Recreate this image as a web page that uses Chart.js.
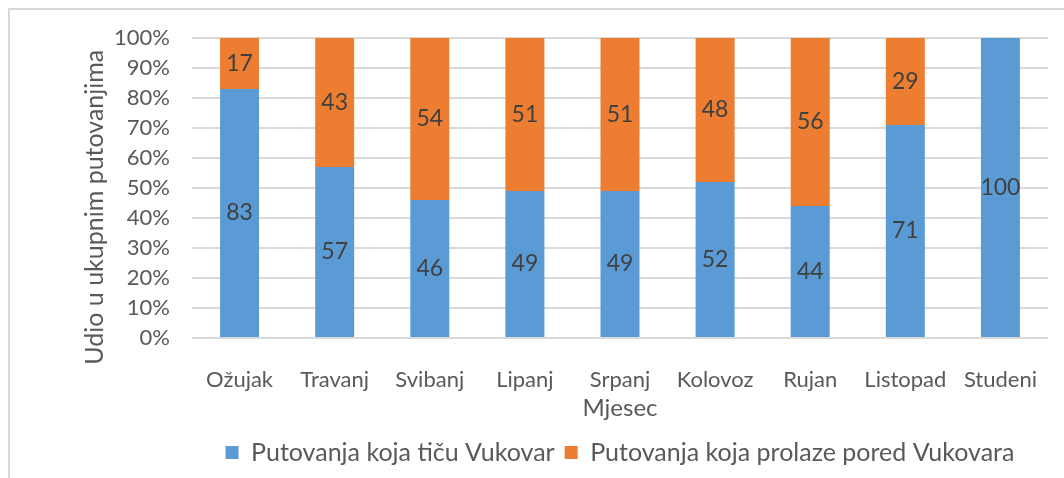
<!DOCTYPE html>
<html>
<head>
<meta charset="utf-8">
<script src="https://cdn.jsdelivr.net/npm/chart.js@4"></script>
<style>
    body { margin: 0; background: #fff; }
    #wrap { position: relative; width: 1064px; height: 478px; }
    #frame {
        position: absolute; left: 8px; top: 8px; right: -4px; bottom: -4px;
        border: 2px solid #d9d9d9; pointer-events: none;
    }
    canvas { position: absolute; left: 0; top: 0; }
</style>
</head>
<body>
<div id="wrap">
    <canvas id="udioChart" width="1064" height="478"></canvas>
    <div id="frame"></div>
</div>
<script>
// Podaci sa grafikona
const mjeseci = ['Ožujak', 'Travanj', 'Svibanj', 'Lipanj', 'Srpanj', 'Kolovoz', 'Rujan', 'Listopad', 'Studeni'];
const ticuVukovar = [83, 57, 46, 49, 49, 52, 44, 71, 100];
const prolazePored = [17, 43, 54, 51, 51, 48, 56, 29, 0];
const yTicks = [0, 10, 20, 30, 40, 50, 60, 70, 80, 90, 100];

const FONT = 'Lato, "Open Sans", sans-serif';
const textColor = '#595959';

// Oznake vrijednosti u sredini svakog segmenta
const labelsPlugin = {
    id: 'segmentLabels',
    afterDatasetsDraw(chart) {
        const ctx = chart.ctx;
        ctx.save();
        ctx.font = '23px ' + FONT;
        ctx.fillStyle = '#404040';
        ctx.textAlign = 'center';
        ctx.textBaseline = 'middle';
        chart.data.datasets.forEach((ds, i) => {
            const meta = chart.getDatasetMeta(i);
            meta.data.forEach((bar, j) => {
                const v = ds.data[j];
                if (!v) return;
                ctx.fillText(String(v), bar.x, (bar.y + bar.base) / 2);
            });
        });
        ctx.restore();
    }
};

// Legenda centrirana na podrucje grafa
const legendShift = {
    id: 'legendShift',
    afterLayout(chart) {
        if (chart.legend) {
            chart.legend.left = chart.chartArea.left;
            chart.legend.right = chart.chartArea.right;
        }
    }
};

new Chart(document.getElementById('udioChart'), {
    type: 'bar',
    data: {
        labels: mjeseci,
        datasets: [
            {
                label: 'Putovanja koja tiču Vukovar',
                data: ticuVukovar,
                backgroundColor: '#5B9BD5',
                categoryPercentage: 1,
                barPercentage: 0.41
            },
            {
                label: 'Putovanja koja prolaze pored Vukovara',
                data: prolazePored,
                backgroundColor: '#ED7D31',
                categoryPercentage: 1,
                barPercentage: 0.41
            }
        ]
    },
    options: {
        responsive: false,
        animation: false,
        layout: { padding: { left: 10, right: 16, top: 38, bottom: 3 } },
        scales: {
            x: {
                stacked: true,
                grid: { display: false },
                border: { display: false },
                ticks: { color: textColor, font: { family: FONT, size: 22 }, padding: 21 },
                title: {
                    display: true, text: 'Mjesec', color: textColor,
                    font: { family: FONT, size: 24 }, padding: { top: 0, bottom: 7 }
                },
                afterFit(scale) { scale.height = 92; }
            },
            y: {
                stacked: true,
                min: 0,
                max: 100,
                afterBuildTicks(scale) { scale.ticks = yTicks.map(v => ({ value: v })); },
                grid: { color: '#d9d9d9', lineWidth: 2, drawTicks: false },
                border: { display: false },
                ticks: {
                    color: textColor, font: { family: FONT, size: 22 }, padding: 22,
                    callback: v => v + '%'
                },
                title: {
                    display: true, text: 'Udio u ukupnim putovanjima      ', color: textColor,
                    font: { family: FONT, size: 25 }, padding: { top: 70, bottom: 0 }
                },
                afterFit(scale) { scale.width = 182; }
            }
        },
        plugins: {
            legend: {
                position: 'bottom',
                labels: {
                    color: textColor,
                    font: { family: FONT, size: 25 },
                    boxWidth: 13,
                    boxHeight: 13,
                    padding: 10
                }
            },
            tooltip: { enabled: false }
        }
    },
    plugins: [labelsPlugin, legendShift]
});
</script>
</body>
</html>
